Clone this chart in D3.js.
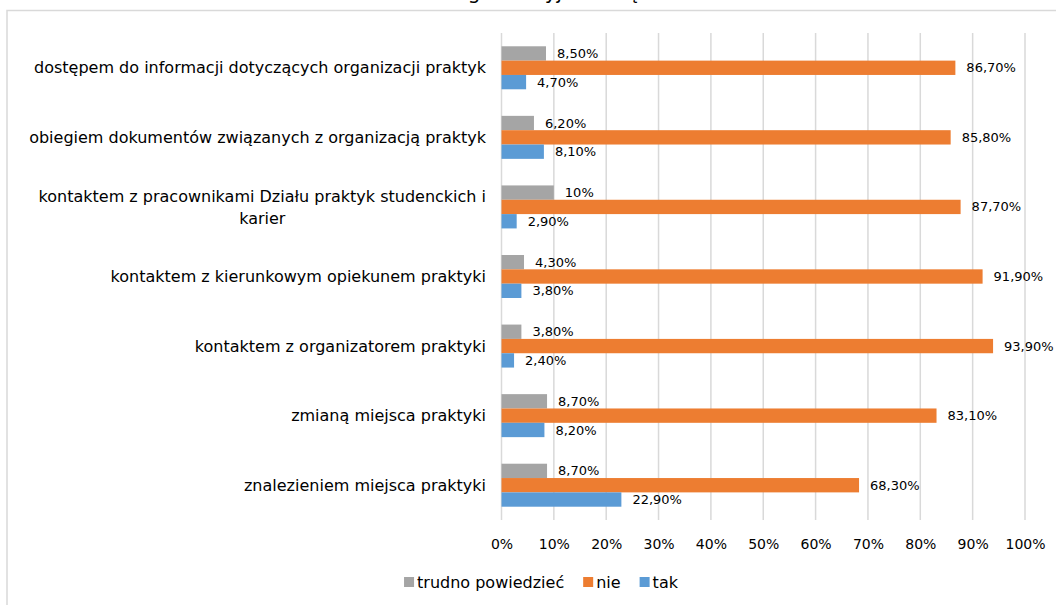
<!DOCTYPE html>
<html>
<head>
<meta charset="utf-8">
<script src="https://cdnjs.cloudflare.com/ajax/libs/d3/7.8.5/d3.min.js"></script>
<style>
    body { margin: 0; background: #fff; }
    svg text { font-family: 'DejaVu Sans', sans-serif; fill: #000; }
</style>
</head>
<body>
<div id="chart"></div>
<script>
// dane
const categories = [
    'dostępem do informacji dotyczących organizacji praktyk',
    'obiegiem dokumentów związanych z organizacją praktyk',
    'kontaktem z pracownikami Działu praktyk studenckich i|karier',
    'kontaktem z kierunkowym opiekunem praktyki',
    'kontaktem z organizatorem praktyki',
    'zmianą miejsca praktyki',
    'znalezieniem miejsca praktyki'
];
const seriesNames = ['trudno powiedzieć', 'nie', 'tak'];
const trudno = [8.5, 6.2, 10, 4.3, 3.8, 8.7, 8.7];
const nie = [86.7, 85.8, 87.7, 91.9, 93.9, 83.1, 68.3];
const tak = [4.7, 8.1, 2.9, 3.8, 2.4, 8.2, 22.9];
const ticks = [0, 10, 20, 30, 40, 50, 60, 70, 80, 90, 100];
const titleText = 'Trudności organizacyjne związane z:';

const colors = ['#a5a5a5', '#ed7d31', '#5b9bd5'];
const seriesValues = [trudno, nie, tak];

const W = 1056, H = 605;
const svg = d3.select('#chart').append('svg')
    .attr('width', W)
    .attr('height', H);

// ramka wykresu
svg.append('rect')
    .attr('x', 7).attr('y', 10.5)
    .attr('width', W).attr('height', H)
    .attr('fill', 'none')
    .attr('stroke', '#d9d9d9')
    .attr('stroke-width', 1.5);

// tytuł (ucięty u góry)
svg.append('text')
    .attr('x', 528).attr('y', -1)
    .attr('text-anchor', 'middle')
    .style('font-size', '20px')
    .text(titleText);

const x = d3.scaleLinear().domain([0, 100]).range([501.5, 1025]);
const y = d3.scaleBand().domain(d3.range(categories.length)).range([33, 520])
    .paddingInner(0.382).paddingOuter(0.191);
const ys = d3.scaleBand().domain(d3.range(seriesNames.length)).range([0, y.bandwidth()]);

// linie siatki
svg.append('g')
    .selectAll('line')
    .data(ticks)
    .enter()
    .append('line')
    .attr('x1', d => x(d)).attr('x2', d => x(d))
    .attr('y1', 33).attr('y2', 520)
    .attr('stroke', '#d9d9d9')
    .attr('stroke-width', 1.5);

// oś X
const xAxis = svg.append('g')
    .attr('transform', 'translate(0, 536)')
    .call(d3.axisBottom(x).tickValues(ticks).tickFormat(d => d + '%').tickSize(0));
xAxis.select('.domain').remove();
xAxis.selectAll('text')
    .style('font-family', 'DejaVu Sans, sans-serif')
    .style('font-size', '14px')
    .attr('fill', '#000');

// etykiety kategorii
const catLabels = svg.append('g')
    .selectAll('text')
    .data(categories)
    .enter()
    .append('text')
    .style('font-size', '16px')
    .attr('y', (d, i) => y(i) + y.bandwidth() / 2);

catLabels.each(function (d, i) {
    const lines = d.split('|');
    const t = d3.select(this);
    if (lines.length === 1) {
        t.attr('x', 486).attr('text-anchor', 'end').attr('dy', '0.35em').text(d);
    } else {
        // dwa wiersze wyśrodkowane względem najdłuższego
        t.attr('text-anchor', 'middle');
        const tmp = lines.map(l => t.append('tspan').text(l));
        const maxW = d3.max(tmp, s => s.node().getComputedTextLength());
        const cx = 486 - maxW / 2;
        const cy = y(i) + y.bandwidth() / 2;
        tmp.forEach((s, k) => {
            s.attr('x', cx).attr('y', cy + (k - (lines.length - 1) / 2) * 22).attr('dy', '0.35em');
        });
    }
});

// słupki
const fmt = v => Number.isInteger(v) ? v + '%' : v.toFixed(2).replace('.', ',') + '%';

seriesValues.forEach((vals, s) => {
    svg.append('g')
        .selectAll('rect')
        .data(vals)
        .enter()
        .append('rect')
        .attr('x', x(0))
        .attr('y', (d, i) => y(i) + ys(s))
        .attr('width', d => x(d) - x(0))
        .attr('height', ys.bandwidth())
        .attr('fill', colors[s]);

    svg.append('g')
        .selectAll('text')
        .data(vals)
        .enter()
        .append('text')
        .attr('x', d => x(d) + 11)
        .attr('y', (d, i) => y(i) + ys(s) + ys.bandwidth() / 2)
        .attr('dy', '0.35em')
        .style('font-size', '13px')
        .text(d => fmt(d));
});

// legenda
const legend = svg.append('g').attr('transform', 'translate(0, 582)');
const items = legend.selectAll('g')
    .data(seriesNames)
    .enter()
    .append('g');
items.append('rect')
    .attr('width', 10).attr('height', 10)
    .attr('y', -5)
    .attr('fill', (d, i) => colors[i]);
items.append('text')
    .attr('x', 13)
    .attr('dy', '0.35em')
    .style('font-size', '16px')
    .text(d => d);

let widths = [];
items.each(function () { widths.push(13 + d3.select(this).select('text').node().getComputedTextLength()); });
const gap = 19;
const total = d3.sum(widths) + gap * (widths.length - 1);
let pos = 541 - total / 2;
items.each(function (d, i) {
    d3.select(this).attr('transform', `translate(${pos}, 0)`);
    pos += widths[i] + gap;
});
</script>
</body>
</html>
